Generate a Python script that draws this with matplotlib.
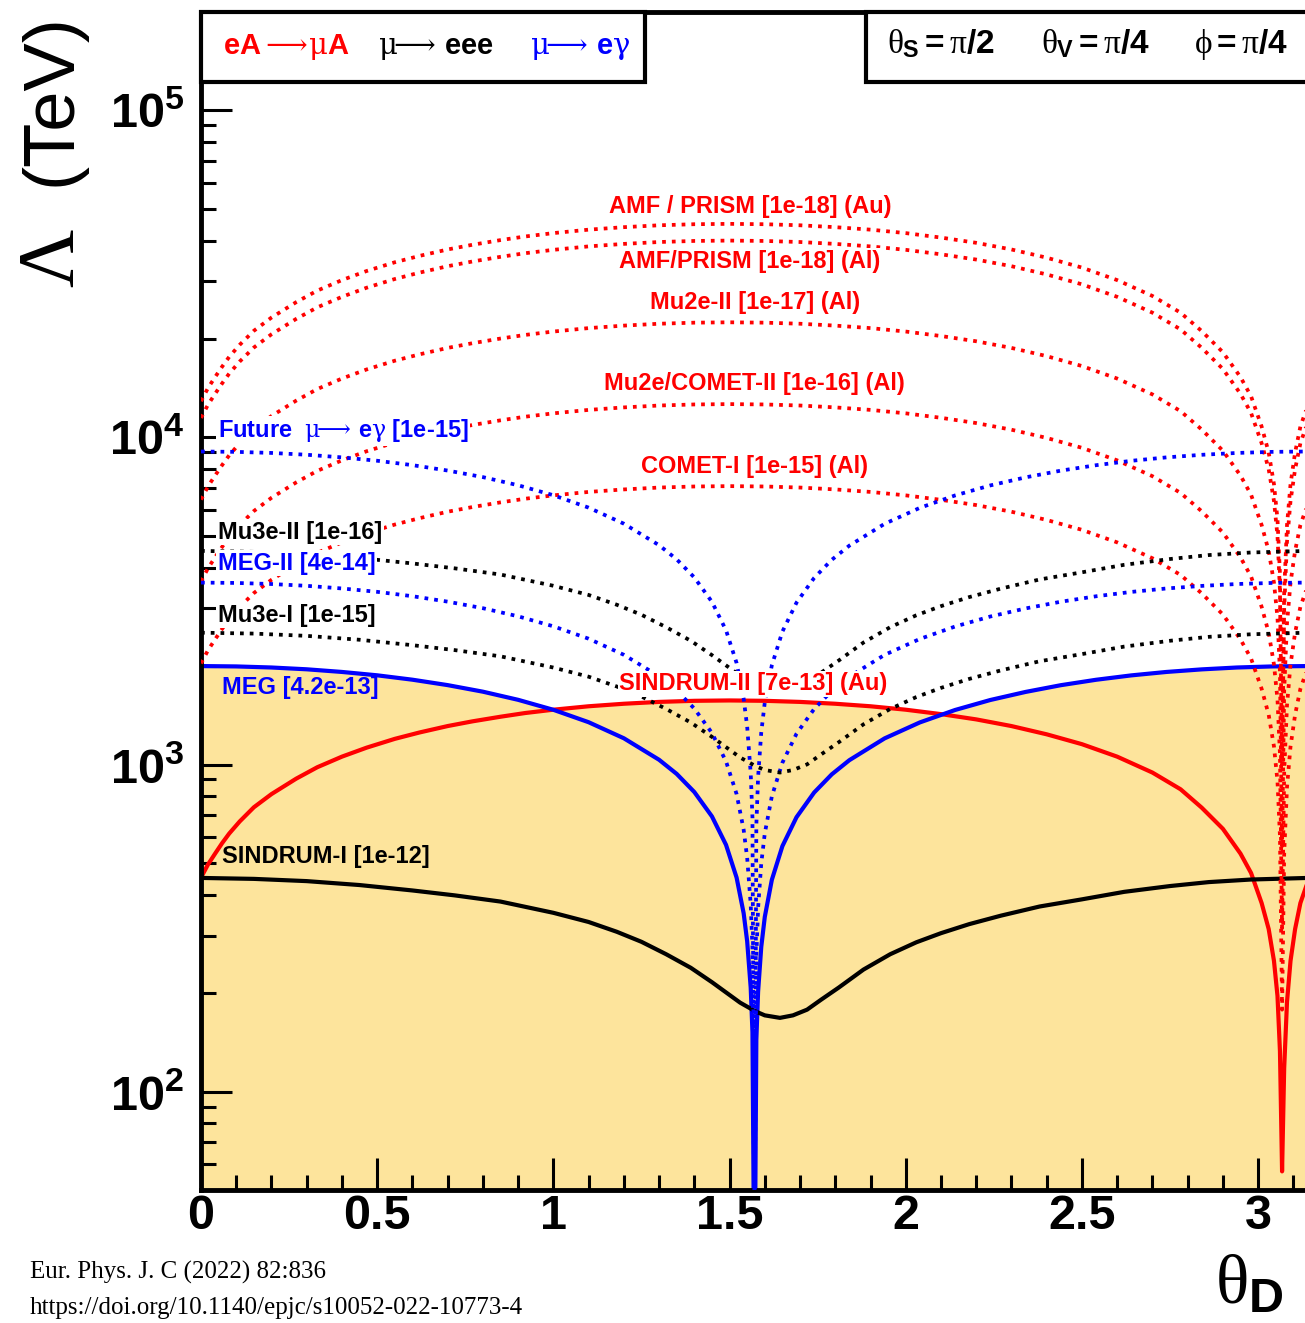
import numpy as np
import matplotlib.pyplot as plt
from matplotlib.patches import Rectangle
from matplotlib.ticker import FixedLocator, LogLocator, MultipleLocator, NullFormatter

plt.rcParams['font.family'] = ['Liberation Sans', 'DejaVu Sans']
plt.rcParams['mathtext.fontset'] = 'custom'
plt.rcParams['mathtext.rm'] = 'Liberation Sans'
plt.rcParams['mathtext.bf'] = 'Liberation Sans:bold'
plt.rcParams['mathtext.it'] = 'Liberation Serif'

# ---- data (theta_D in rad, Lambda in TeV) ----
# eA -> muA  (conversion)
th_ea = [0, 0.02, 0.04, 0.06, 0.08, 0.11, 0.15, 0.2, 0.27, 0.33,
         0.4, 0.47, 0.55, 0.62, 0.7, 0.77, 0.85, 0.92, 1.0, 1.1,
         1.2, 1.3, 1.4, 1.5, 1.6, 1.7, 1.8, 1.9, 2.0, 2.1,
         2.2, 2.3, 2.4, 2.5, 2.6, 2.7, 2.78, 2.84, 2.9, 2.95,
         2.98, 3.01, 3.03, 3.045, 3.055, 3.062, 3.068, 3.074, 3.082, 3.092,
         3.105, 3.12, 3.1416]
sindrum2 = [451, 495, 534, 575, 615, 670, 740, 812, 905, 981,
            1057, 1126, 1198, 1253, 1311, 1355, 1400, 1437, 1471, 1507,
            1534, 1554, 1566, 1570, 1566, 1554, 1534, 1507, 1471, 1426,
            1374, 1311, 1237, 1154, 1057, 945, 840, 738, 636, 534,
            466, 377, 314, 251, 196, 133, 57, 118, 188, 251,
            314, 377, 440]
comet1 = [2038, 2237, 2414, 2599, 2783, 3032, 3344, 3671, 4090, 4438,
          4778, 5094, 5417, 5666, 5929, 6127, 6333, 6497, 6653, 6816,
          6937, 7029, 7082, 7100, 7082, 7029, 6937, 6816, 6653, 6447,
          6213, 5929, 5595, 5219, 4778, 4274, 3799, 3337, 2876, 2414,
          2109, 1704, 1420, 1136, 888, 604, 178, 533, 852, 1136,
          1420, 1704, 1988]
comet2 = [3631, 3985, 4301, 4630, 4959, 5402, 5958, 6540, 7286, 7906,
          8513, 9076, 9652, 10095, 10563, 10917, 11284, 11575, 11853, 12144,
          12359, 12524, 12618, 12650, 12618, 12524, 12359, 12144, 11853, 11486,
          11069, 10563, 9968, 9298, 8513, 7615, 6768, 5946, 5123, 4301,
          3757, 3036, 2530, 2024, 1581, 1075, 316, 949, 1518, 2024,
          2530, 3036, 3542]
mu2e2 = [6458, 7088, 7650, 8235, 8820, 9608, 10598, 11633, 12960, 14063,
         15143, 16144, 17168, 17955, 18788, 19418, 20070, 20588, 21083, 21600,
         21983, 22275, 22444, 22500, 22444, 22275, 21983, 21600, 21083, 20430,
         19688, 18788, 17730, 16538, 15143, 13545, 12038, 10575, 9113, 7650,
         6683, 5400, 4500, 3600, 2813, 1913, 563, 1688, 2700, 3600,
         4500, 5400, 6300]
amf_al = [11480, 12600, 13600, 14640, 15680, 17080, 18840, 20680, 23040, 25000,
          26920, 28700, 30520, 31920, 33400, 34520, 35680, 36600, 37480, 38400,
          39080, 39600, 39900, 40000, 39900, 39600, 39080, 38400, 37480, 36320,
          35000, 33400, 31520, 29400, 26920, 24080, 21400, 18800, 16200, 13600,
          11880, 9600, 8000, 6400, 5000, 3400, 1000, 3000, 4800, 6400,
          8000, 9600, 11200]
amf_au = [12915, 14175, 15300, 16470, 17640, 19215, 21195, 23265, 25920, 28125,
          30285, 32288, 34335, 35910, 37575, 38835, 40140, 41175, 42165, 43200,
          43965, 44550, 44888, 45000, 44888, 44550, 43965, 43200, 42165, 40860,
          39375, 37575, 35460, 33075, 30285, 27090, 24075, 21150, 18225, 15300,
          13365, 10800, 9000, 7200, 5625, 3825, 1125, 3375, 5400, 7200,
          9000, 10800, 12600]

# mu -> e gamma
th_eg = [0, 0.1, 0.2, 0.3, 0.4, 0.5, 0.6, 0.7, 0.8, 0.9,
         1.0, 1.1, 1.2, 1.3, 1.35, 1.4, 1.45, 1.49, 1.52, 1.54,
         1.55, 1.56, 1.565, 1.5708, 1.576, 1.581, 1.59, 1.60, 1.62, 1.65,
         1.69, 1.74, 1.79, 1.84, 1.94, 2.04, 2.14, 2.24, 2.34, 2.44,
         2.54, 2.64, 2.74, 2.84, 2.94, 3.04, 3.1416]
meg = [2000, 1995, 1980, 1955, 1919, 1874, 1817, 1749, 1670, 1577,
       1470, 1347, 1203, 1034, 936, 824, 694, 568, 451, 351,
       288, 208, 152, 20, 144, 202, 277, 342, 444, 563,
       690, 821, 933, 1031, 1202, 1345, 1468, 1575, 1667, 1748,
       1816, 1873, 1919, 1954, 1980, 1995, 2000]
meg2 = [3600, 3591, 3564, 3519, 3454, 3373, 3271, 3148, 3006, 2839,
        2646, 2425, 2165, 1861, 1685, 1483, 1249, 1022, 812, 632,
        518, 374, 274, 30, 259, 364, 499, 616, 799, 1013,
        1242, 1478, 1679, 1856, 2164, 2421, 2642, 2835, 3001, 3146,
        3269, 3371, 3454, 3517, 3564, 3591, 3600]
meg_future = [9060, 9037, 8969, 8856, 8693, 8489, 8231, 7923, 7565, 7144,
              6659, 6102, 5450, 4684, 4240, 3733, 3144, 2573, 2043, 1590,
              1305, 942, 689, 30, 652, 915, 1255, 1549, 2011, 2550,
              3126, 3719, 4226, 4670, 5445, 6093, 6650, 7135, 7552, 7918,
              8226, 8485, 8693, 8852, 8969, 9037, 9060]

# mu -> eee
th_eee = [0, 0.15, 0.3, 0.45, 0.6, 0.72, 0.85, 1.0, 1.1, 1.18,
          1.25, 1.32, 1.39, 1.45, 1.53, 1.573, 1.6, 1.643, 1.68, 1.72,
          1.76, 1.81, 1.88, 1.956, 2.03, 2.1, 2.18, 2.27, 2.38, 2.5,
          2.62, 2.75, 2.86, 2.98, 3.1416]
sindrum1 = [450, 447, 440, 428, 412, 398, 381, 352, 330, 308,
            287, 263, 239, 216, 187, 176, 171, 168, 171, 178,
            191, 208, 236, 263, 286, 305, 325, 345, 368, 387,
            408, 425, 437, 445, 450]
mu3e1 = [2530, 2514, 2474, 2407, 2317, 2238, 2142, 1979, 1856, 1732,
         1614, 1479, 1344, 1215, 1051, 990, 962, 945, 962, 1001,
         1074, 1170, 1327, 1479, 1608, 1715, 1827, 1940, 2069, 2176,
         2294, 2390, 2457, 2502, 2530]
mu3e2 = [4500, 4470, 4400, 4280, 4120, 3980, 3810, 3520, 3300, 3080,
         2870, 2630, 2390, 2160, 1870, 1760, 1710, 1680, 1710, 1780,
         1910, 2080, 2360, 2630, 2860, 3050, 3250, 3450, 3680, 3870,
         4080, 4250, 4370, 4450, 4500]

x_ticks = [0, 0.5, 1, 1.5, 2, 2.5, 3]
x_ticklabels = ['0', '0.5', '1', '1.5', '2', '2.5', '3']
y_ticks = [1e2, 1e3, 1e4, 1e5]
y_ticklabels = [r'$\mathbf{10^{2}}$', r'$\mathbf{10^{3}}$', r'$\mathbf{10^{4}}$', r'$\mathbf{10^{5}}$']

RED, BLUE, BLACK = '#ff0000', '#0000ff', '#000000'
FILL = '#fde49c'
W, H = 1305, 1323

fig = plt.figure(figsize=(W / 100, H / 100), dpi=100)
ax = fig.add_axes([201 / W, 1 - 1190 / H, (1308 - 201) / W, (1190 - 12) / H])
ax.set_yscale('log')
ax.set_xlim(0, np.pi)
ax.set_ylim(50, 2e5)

# excluded region
ax.fill_between(th_eg, meg, 1, color=FILL, lw=0, zorder=1)
ax.fill_between(th_ea, sindrum2, 1, color=FILL, lw=0, zorder=1)

# current limits (solid)
ax.plot(th_ea, sindrum2, color=RED, lw=3, zorder=2)
ax.plot(th_eg, meg, color=BLUE, lw=3, zorder=2)
ax.plot(th_eee, sindrum1, color=BLACK, lw=3, zorder=2)

# future sensitivities (dotted)
dot = dict(lw=2.7, ls=(0, (1, 1.6)), zorder=3)
for vals in [comet1, comet2, mu2e2, amf_al, amf_au]:
    ax.plot(th_ea, vals, color=RED, **dot)
for vals in [meg2, meg_future]:
    ax.plot(th_eg, vals, color=BLUE, **dot)
for vals in [mu3e1, mu3e2]:
    ax.plot(th_eee, vals, color=BLACK, **dot)

# curve labels
wbox = dict(facecolor='white', edgecolor='none', pad=1)
lab = dict(fontsize=17, fontweight='bold', va='center', zorder=5, math_fontfamily='dejavuserif')
ax.text(1.558, 50900, 'AMF / PRISM [1e-18] (Au)', color=RED, ha='center', bbox=wbox, **lab)
ax.text(1.558, 34600, 'AMF/PRISM [1e-18] (Al)', color=RED, ha='center', bbox=wbox, **lab)
ax.text(1.572, 25800, 'Mu2e-II [1e-17] (Al)', color=RED, ha='center', bbox=wbox, **lab)
ax.text(1.570, 14650, 'Mu2e/COMET-II [1e-16] (Al)', color=RED, ha='center', bbox=wbox, **lab)
ax.text(1.570, 8180, 'COMET-I [1e-15] (Al)', color=RED, ha='center', bbox=wbox, **lab)
ax.text(0.048, 10480, r'Future  $\mathrm{\mu\!\!\longrightarrow\!}$ e$\mathrm{\gamma}$ [1e-15]',
        color=BLUE, ha='left', bbox=wbox, **lab)
ax.text(0.048, 5140, 'Mu3e-II [1e-16]', color=BLACK, ha='left', bbox=wbox, **lab)
ax.text(0.048, 4130, 'MEG-II [4e-14]', color=BLUE, ha='left', bbox=wbox, **lab)
ax.text(0.048, 2865, 'Mu3e-I [1e-15]', color=BLACK, ha='left', bbox=wbox, **lab)
ax.text(1.567, 1764, 'SINDRUM-II [7e-13] (Au)', color=RED, ha='center', bbox=wbox, **lab)
ax.text(0.06, 1714, 'MEG [4.2e-13]', color=BLUE, ha='left', **lab)
ax.text(0.06, 522, 'SINDRUM-I [1e-12]', color=BLACK, ha='left', **lab)

# axes styling
ax.xaxis.set_major_locator(FixedLocator(x_ticks))
ax.set_xticklabels(x_ticklabels, fontweight='bold')
ax.xaxis.set_minor_locator(MultipleLocator(0.1))
ax.yaxis.set_major_locator(FixedLocator(y_ticks))
ax.set_yticklabels(y_ticklabels)
ax.yaxis.set_minor_locator(LogLocator(base=10, subs=np.arange(2, 10), numticks=20))
ax.yaxis.set_minor_formatter(NullFormatter())
ax.tick_params(which='both', direction='in', top=False, right=False, width=2.2)
ax.tick_params(axis='x', which='major', length=23, pad=3, labelsize=35)
ax.tick_params(axis='x', which='minor', length=11)
ax.tick_params(axis='y', which='major', length=22, pad=12, labelsize=35)
ax.tick_params(axis='y', which='minor', length=11)
for s in ax.spines.values():
    s.set_linewidth(3.5)

# header boxes
fig.add_artist(Rectangle((201 / W, 1 - 82 / H), (645 - 201) / W, 70 / H, transform=fig.transFigure,
                         facecolor='white', edgecolor='black', lw=3, zorder=10))
fig.add_artist(Rectangle((866 / W, 1 - 82 / H), (1320 - 866) / W, 70 / H, transform=fig.transFigure,
                         facecolor='white', edgecolor='black', lw=3, zorder=10))
hdr = dict(fontsize=21, fontweight='bold', ha='center', va='baseline', zorder=11,
           math_fontfamily='dejavuserif')
fig.text(286 / W, 1 - 54 / H, r'eA$\mathrm{\,\!\longrightarrow\!\mu}$A', color=RED, **hdr)
fig.text(436 / W, 1 - 54 / H, r'$\mathrm{\mu\!\!\longrightarrow\!}$ eee', color=BLACK, **hdr)
fig.text(580 / W, 1 - 54 / H, r'$\mathrm{\mu\!\!\longrightarrow\!}$ e$\mathrm{\gamma}$', color=BLUE, **hdr)
par = dict(fontsize=24, ha='center', va='baseline', zorder=11)
fig.text(941 / W, 1 - 53 / H, r'$\theta_{\mathbf{S}}\mathbf{=}\pi\mathbf{/2}$', **par)
fig.text(1095 / W, 1 - 53 / H, r'$\theta_{\mathbf{V}}\mathbf{=}\pi\mathbf{/4}$', **par)
fig.text(1241 / W, 1 - 53 / H, r'$\phi\mathbf{=}\pi\mathbf{/4}$', **par)

# axis titles
fig.text(52 / W, 1 - 100 / H, '(TeV)', fontsize=52, rotation=90, ha='center', va='center')
fig.text(54 / W, 1 - 258 / H, 'Λ', family='Liberation Serif', fontsize=58, rotation=90,
         ha='center', va='center')
fig.text(1215 / W, 1 - 1303 / H, r'$\theta_{\mathbf{D}}$', fontsize=50, ha='left', va='baseline')

# citation
fig.text(30 / W, 1 - 1279 / H, 'Eur. Phys. J. C (2022) 82:836', family='Liberation Serif',
         fontsize=18, va='baseline')
fig.text(30 / W, 1 - 1314 / H, 'https://doi.org/10.1140/epjc/s10052-022-10773-4',
         family='Liberation Serif', fontsize=18, va='baseline')

fig.savefig('out.png', dpi=100)
